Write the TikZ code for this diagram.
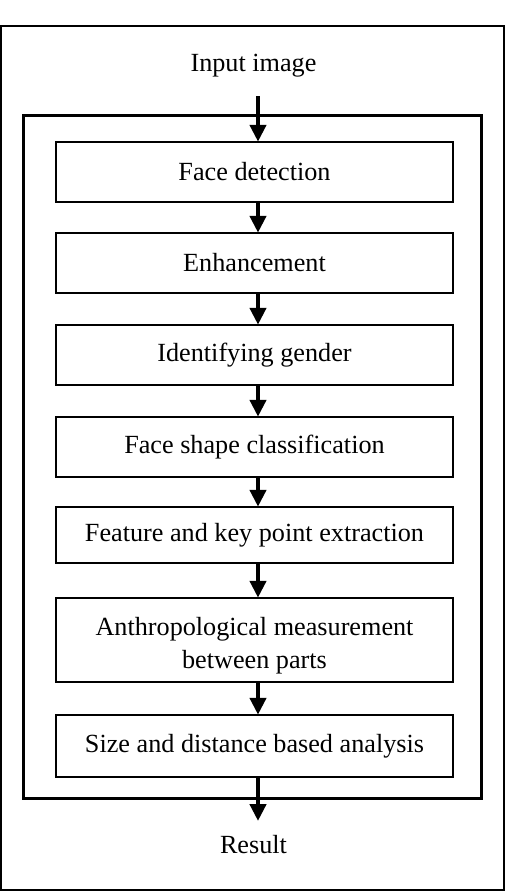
\documentclass[tikz,border=0pt]{standalone}
\usepackage{fontspec}
\setmainfont{Liberation Serif}
\usetikzlibrary{arrows.meta}
\begin{document}
\begin{tikzpicture}[x=1pt,y=-1pt,
  stepbox/.style={draw=black, line width=2.5pt, minimum width=397pt, inner sep=0pt, align=center, font=\fontsize{26.2}{33}\selectfont},
  lbl/.style={inner sep=0pt, align=center, font=\fontsize{26.2}{33}\selectfont},
  flow/.style={line width=4.5pt, -{Triangle[width=16pt,length=17pt]}, shorten >=-1pt}]
\useasboundingbox (0,0) rectangle (506,892);
% frames
\draw[line width=2pt] (1,26) rectangle (504,890);
\draw[line width=3pt] (23,115) rectangle (481,798);
% labels
\node[lbl, anchor=base] (inp) at (253.5,71) {Input image};
\node[lbl, anchor=base] (res) at (253.5,853) {Result};
% steps
\node[stepbox, minimum height=60pt] (b1) at (254.5,172) {Face detection};
\node[stepbox, minimum height=60pt] (b2) at (254.5,263) {Enhancement};
\node[stepbox, minimum height=60pt] (b3) at (254.5,355) {Identifying gender};
\node[stepbox, minimum height=60pt] (b4) at (254.5,447) {Face shape classification};
\node[stepbox, minimum height=56pt] (b5) at (254.5,535) {Feature and key point extraction};
\node[stepbox, minimum height=84pt] (b6) at (254.5,640) {};
\node[lbl] (b6t) at (254.5,646) {Anthropological measurement\\between parts};
\node[stepbox, minimum height=62pt] (b7) at (254.5,746) {Size and distance based analysis};
% connectors
\coordinate (ax) at (258,0);
\coordinate (start) at (258,96);
\coordinate (stop) at (258,820);
\draw[flow] (start) -- (b1.north -| ax);
\draw[flow] (b1.south -| ax) -- (b2.north -| ax);
\draw[flow] (b2.south -| ax) -- (b3.north -| ax);
\draw[flow] (b3.south -| ax) -- (b4.north -| ax);
\draw[flow] (b4.south -| ax) -- (b5.north -| ax);
\draw[flow] (b5.south -| ax) -- (b6.north -| ax);
\draw[flow] (b6.south -| ax) -- (b7.north -| ax);
\draw[flow] (b7.south -| ax) -- (stop);
\end{tikzpicture}
\end{document}
